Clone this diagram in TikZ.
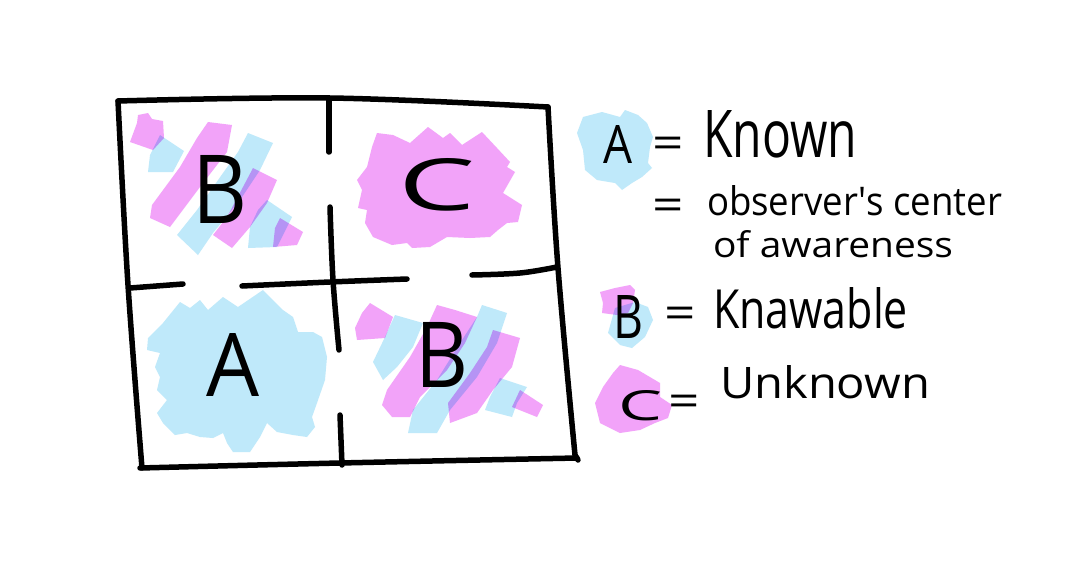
\documentclass[tikz,border=0pt]{standalone}
\usepackage{fontspec}
\setmainfont{Open Sans}
\usepackage{graphicx}
\definecolor{pk}{HTML}{F2A3F9}
\definecolor{bl}{HTML}{BFE9FA}
\newcommand\fitto[3]{\resizebox{#1pt}{#2pt}{#3}}
\begin{document}
\begin{tikzpicture}[x=1pt,y=-1pt,
  pinkblob/.style={fill=pk,draw=none},
  blueblob/.style={fill=bl,draw=none},
  pen/.style={draw=black,line width=5.5pt,line cap=round,line join=round},
  hand/.style={inner sep=0pt,outer sep=0pt,anchor=base west},
  eqsign/.style={inner sep=0pt,anchor=base,xscale=1.25,font=\fontsize{44}{44}\selectfont}]
\useasboundingbox (0,0) rectangle (1082,562);
\fill[white] (0,0) rectangle (1082,562);
\begin{scope}[blend mode=multiply]
% top-left B blob
\fill[pinkblob] (138,115)--(148,113)--(152,119)--(163,121)--(164,138)--(153,150)--(130,142)--(137,123)--cycle;
\fill[blueblob] (160,135)--(184,151)--(173,172)--(148,172)--(150,155)--cycle;
\fill[pinkblob] (208,122)--(232,125)--(227,152)--(200,187)--(170,227)--(150,218)--(152,205)--(180,167)--(197,138)--cycle;
\fill[blueblob] (248,133)--(273,143)--(260,170)--(240,200)--(213,233)--(198,255)--(177,235)--(197,210)--(223,173)--(238,152)--cycle;
\fill[pinkblob] (253,168)--(277,180)--(267,203)--(250,227)--(232,248)--(213,235)--(227,217)--(243,187)--cycle;
\fill[blueblob] (267,200)--(292,217)--(277,247)--(248,248)--(250,227)--(258,210)--cycle;
\fill[pinkblob] (280,218)--(303,232)--(297,245)--(273,247)--(275,228)--cycle;
% top-right C blob
\fill[pinkblob] (377,133)--(393,135)--(410,143)--(428,127)--(443,138)--(450,133)--(462,145)--(482,132)--(497,148)--(510,162)--(507,167)--(515,172)--(503,193)--(522,205)--(518,222)--(507,223)--(498,230)--(490,237)--(470,238)--(447,237)--(430,247)--(412,248)--(407,243)--(392,245)--(373,237)--(365,223)--(367,210)--(358,208)--(362,190)--(357,180)--(367,167)--(372,147)--cycle;
% bottom-left A blob
\fill[blueblob] (180,302)--(190,308)--(200,300)--(208,310)--(223,297)--(238,307)--(263,290)--(283,310)--(293,317)--(298,332)--(313,332)--(322,337)--(327,357)--(325,380)--(317,403)--(312,417)--(315,427)--(307,437)--(293,435)--(277,432)--(267,423)--(260,437)--(250,452)--(233,452)--(227,443)--(223,433)--(213,438)--(200,437)--(187,433)--(175,435)--(163,423)--(157,413)--(167,400)--(157,390)--(160,377)--(155,367)--(160,353)--(147,350)--(148,338)--(163,323)--cycle;
% bottom-right B blob
\fill[pinkblob] (370,303)--(393,317)--(385,338)--(357,340)--(355,328)--(362,313)--cycle;
\fill[blueblob] (395,315)--(423,323)--(413,347)--(397,367)--(383,380)--(373,362)--(385,337)--cycle;
\fill[pinkblob] (437,305)--(455,310)--(477,317)--(465,343)--(447,370)--(420,397)--(410,417)--(392,417)--(382,405)--(387,390)--(410,357)--(427,327)--cycle;
\fill[blueblob] (482,305)--(507,313)--(497,343)--(477,377)--(450,410)--(437,433)--(408,433)--(413,410)--(437,380)--(460,343)--(477,317)--cycle;
\fill[pinkblob] (493,330)--(520,338)--(512,367)--(493,390)--(477,413)--(450,423)--(448,403)--(470,373)--(487,347)--cycle;
\fill[blueblob] (500,378)--(527,387)--(517,403)--(512,417)--(485,410)--(490,397)--cycle;
\fill[pinkblob] (520,390)--(543,405)--(537,417)--(512,407)--cycle;
% legend blobs
\fill[blueblob] (583,117)--(602,112)--(620,117)--(625,110)--(638,115)--(647,123)--(653,137)--(650,147)--(648,163)--(652,168)--(642,177)--(632,183)--(622,190)--(615,183)--(597,180)--(585,170)--(583,150)--(577,133)--cycle;
\fill[pinkblob] (600,292)--(615,288)--(630,285)--(635,290)--(633,303)--(628,313)--(617,315)--(602,313)--(603,303)--cycle;
\fill[blueblob] (615,308)--(635,302)--(648,307)--(653,320)--(645,337)--(632,348)--(620,345)--(608,333)--cycle;
\fill[pinkblob] (620,365)--(638,370)--(660,383)--(660,397)--(672,405)--(668,418)--(655,423)--(640,430)--(620,433)--(600,423)--(595,403)--(603,387)--(613,373)--cycle;
\end{scope}
% grid lines
\draw[pen] plot[smooth,tension=0.6] coordinates {(118,101) (330,98) (548,107)};
\draw[pen] plot[smooth,tension=0.6] coordinates {(548,107) (558,268) (575,455)} -- (578,460);
\draw[pen] plot[smooth,tension=0.6] coordinates {(140,468) (340,463) (577,458)};
\draw[pen] plot[smooth,tension=0.6] coordinates {(118,101) (128,285) (142,468)};
\draw[pen] (329,100) -- (329,152);
\draw[pen] plot[smooth,tension=0.6] coordinates {(330,207) (333,280) (339,350)};
\draw[pen] (340,415) -- (342,465);
\draw[pen] (130,288) -- (183,284);
\draw[pen] plot[smooth,tension=0.6] coordinates {(242,286) (330,282) (407,279)};
\draw[pen] plot[smooth,tension=0.6] coordinates {(472,275) (520,273) (557,267)};
% grid letters
\node[hand] (gB1) at (192,223) {\fitto{55}{68}{B}};
\node[hand] (gC) at (398,210) {\fitto{77}{52}{C}};
\node[hand] (gA) at (206,396) {\fitto{53}{63}{A}};
\node[hand] (gB2) at (415,387) {\fitto{53}{65}{B}};
% legend
\node[hand] (lA) at (603,163) {\fitto{29}{38}{A}};
\node[eqsign] (e1) at (668,158) {=};
\node[hand] (tKnown) at (703,157) {\fitto{154}{47}{Known}};
\node[eqsign] (e2) at (668,220) {=};
\node[hand] (tObs) at (707,215) {\fitto{295}{30}{observer\textquotesingle s center}};
\node[hand] (tAw) at (713,257) {\fitto{240}{27}{of awareness}};
\node[hand] (lB) at (613,338) {\fitto{30}{43}{B}};
\node[eqsign] (e3) at (680,328) {=};
\node[hand] (tKnowable) at (713,328) {\fitto{195}{41}{Knawable}};
\node[hand] (lC) at (618,420) {\fitto{44}{30}{C}};
\node[eqsign] (e4) at (684,416) {=};
\node[hand] (tUnknown) at (720,398) {\fitto{210}{33}{Unknown}};
\end{tikzpicture}
\end{document}
